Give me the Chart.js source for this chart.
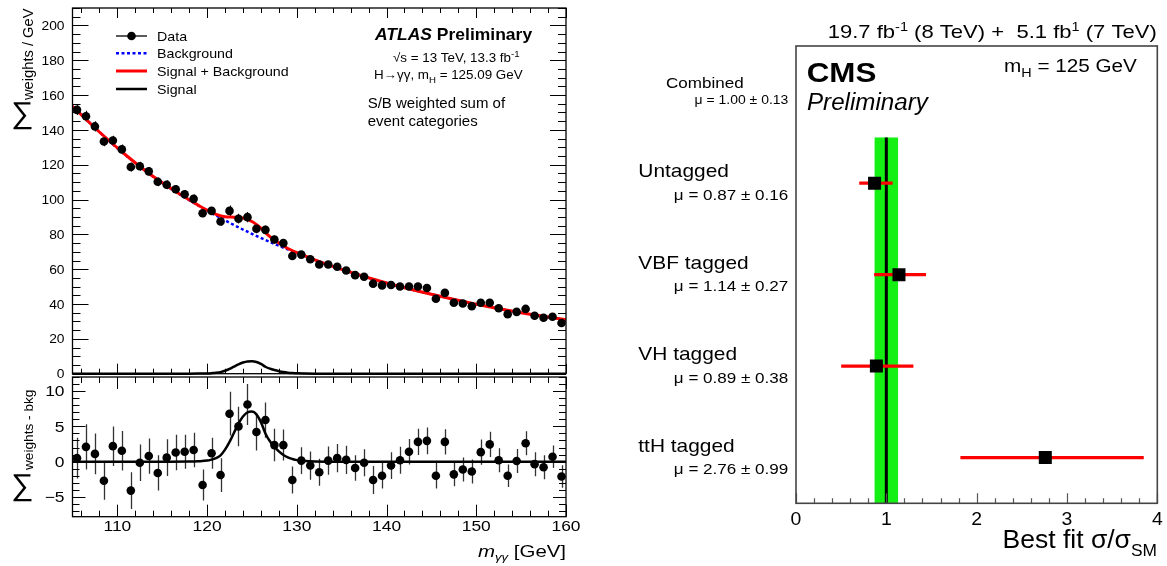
<!DOCTYPE html>
<html>
<head>
<meta charset="utf-8">
<title>H→γγ: ATLAS spectrum and CMS signal strength</title>
<script src="https://cdn.jsdelivr.net/npm/chart.js@4.4.1/dist/chart.umd.min.js"></script>
<style>
  html, body { margin: 0; padding: 0; background: #fff; }
  body { position: relative; width: 1167px; height: 566px; overflow: hidden; }
  canvas { position: absolute; }
</style>
</head>
<body>
<canvas id="massSpectrum" width="600" height="378" style="left:0;top:0"></canvas>
<canvas id="residuals" width="600" height="196" style="left:0;top:370px"></canvas>
<canvas id="signalStrength" width="567" height="566" style="left:600px;top:0"></canvas>
<script>
const FONT = '"Liberation Sans", Arial, Helvetica, sans-serif';

// ---------- ATLAS: S/B weighted diphoton invariant mass ----------
const massBins = [105.5,106.5,107.5,108.5,109.5,110.5,111.5,112.5,113.5,114.5,
  115.5,116.5,117.5,118.5,119.5,120.5,121.5,122.5,123.5,124.5,
  125.5,126.5,127.5,128.5,129.5,130.5,131.5,132.5,133.5,134.5,
  135.5,136.5,137.5,138.5,139.5,140.5,141.5,142.5,143.5,144.5,
  145.5,146.5,147.5,148.5,149.5,150.5,151.5,152.5,153.5,154.5,
  155.5,156.5,157.5,158.5,159.5];
const weightedEvents = [151.5,147.8,142.0,133.3,133.9,128.8,118.7,119.1,116.2,110.2,
  108.5,105.9,103.0,100.4,92.1,93.5,87.4,93.5,89.0,89.9,
  83.2,82.6,77.1,75.0,67.6,68.4,65.7,62.7,62.7,61.4,
  59.3,56.6,55.7,51.7,50.7,50.9,50.1,50.1,50.1,49.2,
  43.0,46.4,40.7,40.3,38.7,40.7,40.7,37.6,34.2,35.5,
  37.2,33.3,32.1,32.7,29.1];
const weightsMinusBkg = [0.5,2.1,1.1,-2.7,2.2,1.55,-4.1,-0.15,0.8,-1.6,
  0.57,1.3,1.4,1.65,-3.3,1.2,-1.9,6.8,5.0,8.1,
  4.2,5.9,2.35,2.35,-2.6,0.15,-0.55,-1.5,0.15,0.5,
  0.25,-0.9,-0.15,-2.6,-2.0,-0.55,0.2,1.4,2.8,2.95,
  -2.0,2.8,-1.8,-1.1,-1.4,1.35,2.45,0.2,-2.0,0.1,
  2.6,-0.35,-0.8,0.7,-2.1];
const binErrors = [2.9,3.2,2.9,2.7,2.8,2.8,2.6,2.6,2.5,2.5,
  2.6,2.5,2.4,2.45,2.2,2.2,2.4,3.1,2.8,2.9,
  2.6,2.5,2.3,2.2,1.9,1.9,2.0,1.9,2.0,2.0,
  2.0,1.8,1.9,2.0,1.8,1.9,1.9,1.8,1.85,1.9,
  1.8,1.8,1.7,1.7,1.7,1.8,1.8,1.7,1.6,1.7,
  1.7,1.7,1.7,1.6,1.6];

// fitted curves
const bkgMass = [105,110,115,120,125,130,135,140,145,150,155,160];
const bkgFit  = [153.5,129.5,109.5,93.7,80.3,69.3,59.9,52.1,45.6,39.9,35.0,30.9];
const sbMass = [105,108,111,114,117,119,120,121,122,123,124,125,126,127,128,129,130,132,135,140,145,150,155,160];
const sbFit  = [153.5,138.8,125.3,113.2,103.0,96.8,93.9,91.5,90.1,89.9,89.4,87.4,83.6,78.7,75.0,71.9,69.5,65.4,59.9,52.1,45.6,39.9,35.0,30.9];
const sigMass = [105,115,118,119,120,120.5,121,121.5,122,122.5,123,123.5,124,124.5,125,125.5,126,126.5,127,127.5,128,128.5,129,129.5,130,131,132,135,160];
const sigFit  = [0,0,0.02,0.06,0.15,0.3,0.5,0.9,1.7,2.8,4.1,5.4,6.4,7.0,7.1,6.7,5.6,4.0,2.9,2.1,1.45,0.95,0.6,0.38,0.22,0.1,0.04,0,0];

const massTicks = [110,120,130,140,150,160];
const weightTicks = [0,20,40,60,80,100,120,140,160,180,200];
const residualTicks = [-5,0,5,10];

// ---------- CMS: best-fit signal strength per category ----------
const channels = ['Combined','Untagged','VBF tagged','VH tagged','ttH tagged'];
const muBest = [1.00, 0.87, 1.14, 0.89, 2.76];
const muDown = [0.87, 0.70, 0.865, 0.50, 1.82];
const muUp   = [1.13, 1.07, 1.44, 1.30, 3.85];
const muText = ['μ = 1.00 ± 0.13','μ = 0.87 ± 0.16','μ = 1.14 ± 0.27','μ = 0.89 ± 0.38','μ = 2.76 ± 0.99'];
const muTicks = [0,1,2,3,4];

// ---------- text helpers ----------
function textRun(ctx, segs, x, y, align, sx) {
  ctx.save();
  let total = 0;
  for (const s of segs) { ctx.font = s.font; s.w = ctx.measureText(s.t).width + (s.dx || 0); total += s.w; }
  const sc = sx || 1;
  const x0 = align === 'right' ? x - total * sc : align === 'center' ? x - total * sc / 2 : x;
  ctx.translate(x0, y); ctx.scale(sc, 1);
  ctx.textAlign = 'left'; ctx.textBaseline = 'alphabetic';
  let cx = 0;
  for (const s of segs) {
    ctx.font = s.font; ctx.fillStyle = s.color || '#000';
    ctx.fillText(s.t, cx + (s.dx || 0), s.dy || 0);
    cx += s.w;
  }
  ctx.restore();
}
function rotatedRun(ctx, segs, x, y, sx) {
  ctx.save(); ctx.translate(x, y); ctx.rotate(-Math.PI / 2);
  textRun(ctx, segs, 0, 0, 'left', sx);
  ctx.restore();
}
const f = (size, style) => `${style ? style + ' ' : ''}${size}px ${FONT}`;

// ---------- plugins ----------
// inward ROOT-style tick marks, frame and tick labels
const rootAxes = {
  id: 'rootAxes',
  afterDraw(chart, args, o) {
    const ctx = chart.ctx, a = chart.chartArea;
    ctx.save();
    ctx.strokeStyle = o.color; ctx.lineWidth = o.lineWidth; ctx.lineCap = 'butt';
    for (const t of o.ticks) {
      const sc = chart.scales[t.axis];
      const k0 = Math.ceil(sc.min / t.minor - 1e-6), k1 = Math.floor(sc.max / t.minor + 1e-6);
      ctx.beginPath();
      for (let k = k0; k <= k1; k++) {
        const v = k * t.minor, r = v / t.major;
        const len = Math.abs(r - Math.round(r)) < 1e-6 ? t.majorLen : t.minorLen;
        const p = Math.round(sc.getPixelForValue(v)) + 0.5;
        for (const side of t.sides) {
          if (side === 'bottom') { ctx.moveTo(p, a.bottom); ctx.lineTo(p, a.bottom - len); }
          if (side === 'top')    { ctx.moveTo(p, a.top);    ctx.lineTo(p, a.top + len); }
          if (side === 'left')   { ctx.moveTo(a.left, p);   ctx.lineTo(a.left + len, p); }
          if (side === 'right')  { ctx.moveTo(a.right, p);  ctx.lineTo(a.right - len, p); }
        }
      }
      ctx.stroke();
    }
    if (o.frame) {
      ctx.strokeStyle = o.frameColor || o.color; ctx.lineWidth = o.frameWidth || o.lineWidth;
      ctx.strokeRect(a.left, a.top, a.right - a.left, a.bottom - a.top);
    }
    for (const l of o.labels || []) {
      const sc = chart.scales[l.axis];
      for (const v of l.values) {
        const p = sc.getPixelForValue(v);
        const s = String(v).replace('-', '\u2212');
        if (sc.isHorizontal()) textRun(ctx, [{ t: s, font: l.font }], p, a.bottom + l.offset, 'center', l.sx);
        else textRun(ctx, [{ t: s, font: l.font }], a.left - l.offset, p + l.shift, 'right', l.sx);
      }
    }
    ctx.restore();
    if (o.extra) { ctx.save(); o.extra(chart, ctx); ctx.restore(); }
  }
};

// error bars from per-point lower/upper bounds
const errorBars = {
  id: 'errorBars',
  beforeDatasetsDraw(chart) {
    const ctx = chart.ctx, xs = chart.scales.x, ys = chart.scales.y;
    chart.data.datasets.forEach((ds, i) => {
      const eb = ds.errorBars;
      if (!eb) return;
      const meta = chart.getDatasetMeta(i);
      ctx.save();
      ctx.strokeStyle = eb.color; ctx.lineWidth = eb.width; ctx.lineCap = 'butt';
      ctx.beginPath();
      meta.data.forEach((el, j) => {
        if (eb.dir === 'y') {
          const x = Math.round(el.x) + 0.5;
          ctx.moveTo(x, ys.getPixelForValue(eb.lower[j])); ctx.lineTo(x, ys.getPixelForValue(eb.upper[j]));
        } else {
          ctx.moveTo(xs.getPixelForValue(eb.lower[j]), el.y); ctx.lineTo(xs.getPixelForValue(eb.upper[j]), el.y);
        }
      });
      ctx.stroke();
      ctx.restore();
    });
  }
};

// combined-result band and line behind the per-category points
const combinedBand = {
  id: 'combinedBand',
  beforeDatasetsDraw(chart) {
    const ctx = chart.ctx, xs = chart.scales.x, ys = chart.scales.y, a = chart.chartArea;
    const x0 = xs.getPixelForValue(muDown[0]), x1 = xs.getPixelForValue(muUp[0]);
    const yTop = ys.getPixelForValue(0.5);
    ctx.save();
    ctx.fillStyle = '#14f014';
    ctx.fillRect(x0, yTop, x1 - x0, a.bottom - yTop);
    const xc = xs.getPixelForValue(muBest[0]);
    ctx.strokeStyle = '#000'; ctx.lineWidth = 3;
    ctx.beginPath(); ctx.moveTo(xc, yTop); ctx.lineTo(xc, a.bottom); ctx.stroke();
    ctx.restore();
  }
};

const baseOpts = (padding) => ({
  responsive: false, animation: false, devicePixelRatio: 1,
  layout: { padding },
  events: [],
  plugins: { legend: { display: false }, tooltip: { enabled: false } }
});

// upright summation sign followed by a rotated axis title
function sumTitle(ctx, xSigma, ySigmaBase, sigmaSize, text, textSize, xText, yTextStart) {
  textRun(ctx, [{ t: '\u2211', font: f(sigmaSize) }], xSigma, ySigmaBase, 'center', 1.05);
  rotatedRun(ctx, [{ t: text, font: f(textSize) }], xText, yTextStart, 1.05);
}

// ---------- upper ATLAS panel ----------
const topOpts = baseOpts({ left: 72.5, right: 34, top: 8, bottom: 1.3 });
topOpts.scales = {
  x: { type: 'linear', min: 105, max: 160, display: false },
  y: { type: 'linear', min: 0, max: 210, display: false }
};
topOpts.plugins.rootAxes = {
  color: '#000', lineWidth: 1, frame: true, frameWidth: 1.3,
  ticks: [
    { axis: 'x', minor: 2, major: 10, majorLen: 10, minorLen: 5, sides: ['bottom', 'top'] },
    { axis: 'y', minor: 5, major: 20, majorLen: 16, minorLen: 8, sides: ['left', 'right'] }
  ],
  labels: [{ axis: 'y', values: weightTicks, font: f(12.8), offset: 8, shift: 4.6, sx: 1.08 }],
  extra(chart, ctx) {
    sumTitle(ctx, 22.5, 123, 30, 'weights / GeV', 14, 33, 100);
    // legend
    const rows = [
      { t: 'Data', y: 36 }, { t: 'Background', y: 53.3 },
      { t: 'Signal + Background', y: 71 }, { t: 'Signal', y: 89 }
    ];
    ctx.lineCap = 'butt';
    ctx.strokeStyle = '#000'; ctx.lineWidth = 1.3;
    ctx.beginPath(); ctx.moveTo(116, 36); ctx.lineTo(147, 36); ctx.stroke();
    ctx.fillStyle = '#000'; ctx.beginPath(); ctx.arc(131.5, 36, 4.3, 0, Math.PI * 2); ctx.fill();
    ctx.strokeStyle = '#0000ff'; ctx.lineWidth = 2.5; ctx.setLineDash([3, 2.5]);
    ctx.beginPath(); ctx.moveTo(116, 53.3); ctx.lineTo(147, 53.3); ctx.stroke();
    ctx.setLineDash([]);
    ctx.strokeStyle = '#ff0000'; ctx.lineWidth = 3;
    ctx.beginPath(); ctx.moveTo(116, 71); ctx.lineTo(147, 71); ctx.stroke();
    ctx.strokeStyle = '#000'; ctx.lineWidth = 2.5;
    ctx.beginPath(); ctx.moveTo(116, 89); ctx.lineTo(147, 89); ctx.stroke();
    for (const r of rows) textRun(ctx, [{ t: r.t, font: f(13.3) }], 157, r.y + 4.8, 'left', 1.07);
    // labels
    textRun(ctx, [{ t: 'ATLAS', font: f(16.5, 'italic bold') }, { t: ' Preliminary', font: f(16.5, 'bold') }], 375, 40, 'left', 1.06);
    textRun(ctx, [{ t: '\u221As = 13 TeV, 13.3 fb', font: f(12.5) }, { t: '-1', font: f(9), dy: -5 }], 393, 62, 'left', 1.07);
    textRun(ctx, [{ t: 'H\u2192\u03B3\u03B3, m', font: f(12.5) }, { t: 'H', font: f(9), dy: 4 }, { t: ' = 125.09 GeV', font: f(12.5) }], 374, 79, 'left', 1.07);
    textRun(ctx, [{ t: 'S/B weighted sum of', font: f(14) }], 367.7, 108, 'left', 1.07);
    textRun(ctx, [{ t: 'event categories', font: f(14) }], 367.7, 126, 'left', 1.07);
  }
};
new Chart(document.getElementById('massSpectrum'), {
  type: 'scatter',
  data: {
    datasets: [
      { label: 'Data', data: massBins.map((m, i) => ({ x: m, y: weightedEvents[i] })),
        pointRadius: 4.3, pointBackgroundColor: '#000', pointBorderWidth: 0, showLine: false, order: 0,
        errorBars: { dir: 'y', color: '#111', width: 1.2,
          lower: weightedEvents.map((v, i) => v - binErrors[i]), upper: weightedEvents.map((v, i) => v + binErrors[i]) } },
      { label: 'Signal + Background', data: sbMass.map((m, i) => ({ x: m, y: sbFit[i] })),
        showLine: true, pointRadius: 0, borderColor: '#ff0000', borderWidth: 3, cubicInterpolationMode: 'monotone', order: 1 },
      { label: 'Background', data: bkgMass.map((m, i) => ({ x: m, y: bkgFit[i] })),
        showLine: true, pointRadius: 0, borderColor: '#0000ff', borderWidth: 2.5, borderDash: [3, 2.5], cubicInterpolationMode: 'monotone', order: 2 },
      { label: 'Signal', data: sigMass.map((m, i) => ({ x: m, y: sigFit[i] })),
        showLine: true, pointRadius: 0, borderColor: '#000', borderWidth: 2.5, cubicInterpolationMode: 'monotone', order: 3, clip: 3 }
    ]
  },
  options: topOpts,
  plugins: [errorBars, rootAxes]
});

// ---------- lower ATLAS panel: data minus background ----------
const resOpts = baseOpts({ left: 72.5, right: 34, top: 7, bottom: 49.3 });
resOpts.scales = {
  x: { type: 'linear', min: 105, max: 160, display: false },
  y: { type: 'linear', min: -7.8, max: 12, display: false }
};
resOpts.plugins.rootAxes = {
  color: '#000', lineWidth: 1, frame: true, frameWidth: 1.3,
  ticks: [
    { axis: 'x', minor: 2, major: 10, majorLen: 12, minorLen: 6, sides: ['bottom', 'top'] },
    { axis: 'y', minor: 1, major: 5, majorLen: 13, minorLen: 7, sides: ['left', 'right'] }
  ],
  labels: [
    { axis: 'y', values: residualTicks, font: f(14.5), offset: 8, shift: 5.2, sx: 1.2 },
    { axis: 'x', values: massTicks, font: f(14.5), offset: 14, sx: 1.2 }
  ],
  extra(chart, ctx) {
    sumTitle(ctx, 22.5, 125, 30, 'weights - bkg', 13, 33, 100);
    textRun(ctx, [{ t: 'm', font: f(17, 'italic') }, { t: '\u03B3\u03B3', font: f(11, 'italic'), dy: 4 }, { t: ' [GeV]', font: f(17) }], 566, 187, 'right', 1.2);
  }
};
new Chart(document.getElementById('residuals'), {
  type: 'scatter',
  data: {
    datasets: [
      { label: 'Data - bkg', data: massBins.map((m, i) => ({ x: m, y: weightsMinusBkg[i] })),
        pointRadius: 4.3, pointBackgroundColor: '#000', pointBorderWidth: 0, showLine: false, order: 0,
        errorBars: { dir: 'y', color: '#333', width: 1.3,
          lower: weightsMinusBkg.map((v, i) => v - binErrors[i]), upper: weightsMinusBkg.map((v, i) => v + binErrors[i]) } },
      { label: 'Signal', data: sigMass.map((m, i) => ({ x: m, y: sigFit[i] })),
        showLine: true, pointRadius: 0, borderColor: '#000', borderWidth: 2.5, cubicInterpolationMode: 'monotone', order: 1 }
    ]
  },
  options: resOpts,
  plugins: [errorBars, rootAxes]
});

// ---------- CMS signal strength panel ----------
const muOpts = baseOpts({ left: 196, right: 9.7, top: 46, bottom: 62.7 });
muOpts.scales = {
  x: { type: 'linear', min: 0, max: 4, display: false },
  y: { type: 'category', labels: channels, offset: true, display: false }
};
muOpts.plugins.rootAxes = {
  color: '#555', lineWidth: 1.2, frame: true, frameColor: '#444', frameWidth: 1.6,
  ticks: [{ axis: 'x', minor: 0.2, major: 1, majorLen: 10, minorLen: 5, sides: ['bottom'] }],
  labels: [{ axis: 'x', values: muTicks, font: f(18.5), offset: 21.7, sx: 1.05 }],
  extra(chart, ctx) {
    textRun(ctx, [
      { t: '19.7 fb', font: f(19) }, { t: '-1', font: f(12.5), dy: -7 },
      { t: ' (8 TeV) +  5.1 fb', font: f(19) }, { t: '1', font: f(12.5), dy: -7 },
      { t: ' (7 TeV)', font: f(19) }], 227.7, 38, 'left', 1.16);
    textRun(ctx, [{ t: 'CMS', font: f(28, 'bold') }], 206.7, 81.7, 'left', 1.12);
    textRun(ctx, [{ t: 'Preliminary', font: f(23, 'italic') }], 207, 110, 'left', 1.05);
    textRun(ctx, [{ t: 'm', font: f(18) }, { t: 'H', font: f(12.5), dy: 5 }, { t: ' = 125 GeV', font: f(18) }], 404, 72, 'left', 1.15);
    const ys = chart.scales.y;
    channels.forEach((c, i) => {
      const yc = ys.getPixelForValue(i);
      if (i === 0) {
        textRun(ctx, [{ t: c, font: f(15.5) }], 66, yc - 3.5, 'left', 1.1);
        textRun(ctx, [{ t: muText[i], font: f(12.7) }], 188.3, yc + 12.5, 'right', 1.1);
      } else {
        textRun(ctx, [{ t: c, font: f(19) }], 38.3, yc - 6, 'left', 1.1);
        textRun(ctx, [{ t: muText[i], font: f(15.5) }], 188.3, yc + 16.5, 'right', 1.1);
      }
    });
    textRun(ctx, [{ t: 'Best fit \u03C3/\u03C3', font: f(26) }, { t: 'SM', font: f(17), dy: 8 }], 557, 548.3, 'right', 1.02);
  }
};
new Chart(document.getElementById('signalStrength'), {
  type: 'scatter',
  data: {
    datasets: [{
      label: 'Best fit',
      data: channels.slice(1).map((c, i) => ({ x: muBest[i + 1], y: c })),
      pointStyle: 'rect', pointRadius: 9.2, pointBackgroundColor: '#000', pointBorderWidth: 0, showLine: false,
      errorBars: { dir: 'x', color: '#ff0000', width: 3.3, lower: muDown.slice(1), upper: muUp.slice(1) }
    }]
  },
  options: muOpts,
  plugins: [combinedBand, errorBars, rootAxes]
});
</script>
</body>
</html>
